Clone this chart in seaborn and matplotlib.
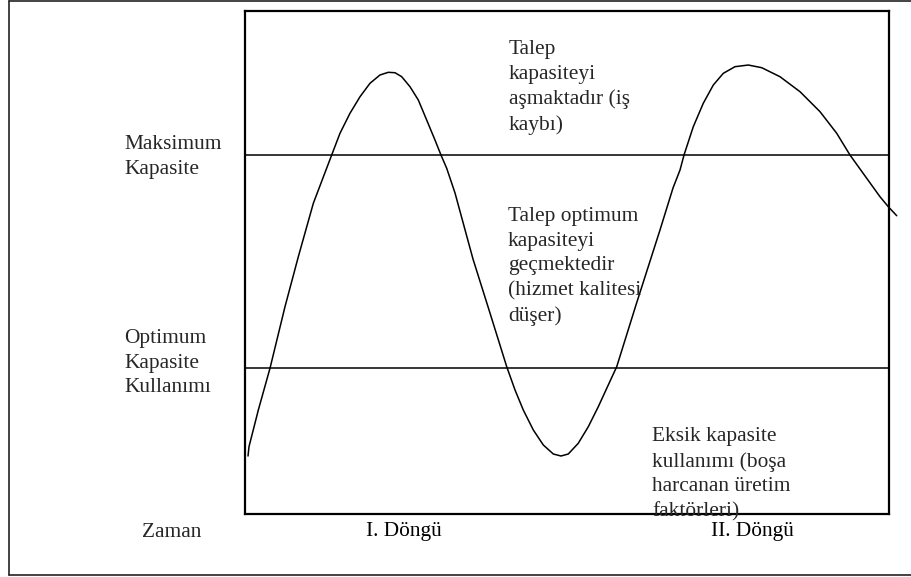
import numpy as np
import pandas as pd
import matplotlib
matplotlib.use("Agg")
import matplotlib.pyplot as plt
from matplotlib.lines import Line2D
import seaborn as sns

# demand curve (time 0-100, level 0-100)
time_pts = [0.47, 0.62, 2.07, 3.88, 6.21, 8.28, 10.61, 13.46, 14.75, 16.30, 17.86,
            19.41, 20.96, 22.25, 23.29, 24.33, 25.62, 26.91, 28.21, 29.50, 30.43,
            31.32, 32.61, 35.40, 38.04, 40.64, 41.93, 43.21, 44.77, 46.32, 47.87,
            49.07, 50.20, 51.75, 53.31, 54.86, 56.41, 57.72, 60.71, 64.44, 66.46,
            67.55, 68.17, 69.61, 71.16, 72.72, 74.27, 76.09, 78.15, 80.23, 83.07,
            86.18, 89.29, 91.88, 93.94, 96.54, 98.60, 99.89, 101.20]
demand_pts = [11.53, 13.38, 20.68, 28.97, 41.21, 51.15, 61.77, 71.37, 75.69, 79.66, 82.96,
              85.63, 87.28, 87.81, 87.73, 86.94, 84.95, 82.31, 78.33, 74.35, 71.37,
              68.73, 63.82, 50.70, 39.96, 29.28, 24.65, 20.68, 16.70, 13.72, 11.93,
              11.53, 11.93, 14.06, 17.36, 21.33, 25.65, 29.28, 41.55, 56.46, 64.81,
              68.39, 71.37, 77.00, 81.65, 85.29, 87.61, 88.93, 89.26, 88.73, 86.94,
              83.96, 79.98, 75.69, 71.37, 66.74, 63.08, 61.09, 59.30]

max_capacity = 71.4
optimum_capacity = 29.0

cycle_labels = ["I. Döngü", "II. Döngü"]
cycle_pos = [24.7, 78.8]

level_labels = ["Maksimum\nKapasite", "Optimum\nKapasite\nKullanımı"]
time_label = "Zaman"
zone_texts = ["Talep\nkapasiteyi\naşmaktadır (iş\nkaybı)",
              "Talep optimum\nkapasiteyi\ngeçmektedir\n(hizmet kalitesi\ndüşer)",
              "Eksik kapasite\nkullanımı (boşa\nharcanan üretim\nfaktörleri)"]

W, H = 911, 577

sns.set_theme(style="white")
plt.rcParams["font.family"] = ["Liberation Serif", "DejaVu Serif"]

fig = plt.figure(figsize=(W / 100, H / 100), dpi=100)
fig.patch.set_facecolor("white")


def px(x, y):
    return x / W, 1 - y / H


ax = fig.add_axes([245 / W, 1 - 514 / H, (889 - 245) / W, (514 - 11) / H])
df = pd.DataFrame({"t": time_pts, "d": demand_pts})
sns.lineplot(data=df, x="t", y="d", sort=False, estimator=None, color="black",
             linewidth=1.1, clip_on=False, ax=ax,
             solid_joinstyle="round", solid_capstyle="round")
ax.axhline(max_capacity, color="black", linewidth=1.1)
ax.axhline(optimum_capacity, color="black", linewidth=1.1)
ax.set_xlim(0, 100)
ax.set_ylim(0, 100)
ax.set_xlabel("")
ax.set_ylabel("")
ax.set_yticks([])
ax.set_xticks(cycle_pos)
ax.set_xticklabels(cycle_labels, fontsize=15.4, color="black")
ax.tick_params(axis="x", length=0, pad=6)
for s in ax.spines.values():
    s.set_visible(True)
    s.set_color("black")
    s.set_linewidth(1.6)

fs = 15.4
ls = 1.40
fig.text(*px(124, 135), level_labels[0], ha="left", va="top", fontsize=fs, linespacing=ls)
fig.text(*px(124, 329), level_labels[1], ha="left", va="top", fontsize=fs, linespacing=ls)
fig.text(*px(141.7, 523), time_label, ha="left", va="top", fontsize=fs)
fig.text(*px(509, 40), zone_texts[0], ha="left", va="top", fontsize=fs, linespacing=ls)
fig.text(*px(508, 207), zone_texts[1], ha="left", va="top", fontsize=fs, linespacing=ls)
fig.text(*px(652, 427), zone_texts[2], ha="left", va="top", fontsize=fs, linespacing=ls)

# outer frame (right side runs off the picture)
fig.add_artist(Line2D([8.5 / W, 8.5 / W], [1 - 1 / H, 1 - 575 / H], color="#222222", linewidth=1.2))
fig.add_artist(Line2D([8.5 / W, 1.01], [1 - 1 / H, 1 - 1 / H], color="#222222", linewidth=1.2))
fig.add_artist(Line2D([8.5 / W, 1.01], [1 - 575 / H, 1 - 575 / H], color="#222222", linewidth=1.2))

fig.savefig("out.png", dpi=100, facecolor="white")
